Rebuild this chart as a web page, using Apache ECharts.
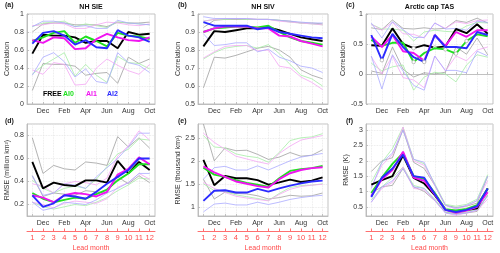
<!DOCTYPE html>
<html>
<head>
<meta charset="utf-8">
<script src="https://cdn.jsdelivr.net/npm/echarts/dist/echarts.min.js"></script>
<style>html,body{margin:0;padding:0;background:#fff}#c{width:500px;height:253px}</style>
</head>
<body>
<div id="c"></div>
<script>
// ---------- categories / tick labels ----------
const months = ['Nov','Dec','Jan','Feb','Mar','Apr','May','Jun','Jul','Aug','Sep','Oct'];
const leadMonths = ['1','2','3','4','5','6','7','8','9','10','11','12'];
const expNames = ['FREE','AI0','AI1','AI2'];

// ---------- (a) NH SIE correlation ----------
const a_FREE = [0.56,0.77,0.76,0.76,0.74,0.68,0.70,0.70,0.62,0.80,0.77,0.78];
const a_AI0  = [0.70,0.74,0.79,0.81,0.68,0.75,0.70,0.64,0.79,0.76,0.75,0.72];
const a_AI1  = [0.71,0.68,0.74,0.73,0.61,0.62,0.72,0.78,0.74,0.71,0.70,0.74];
const a_AI2  = [0.67,0.79,0.81,0.76,0.66,0.71,0.63,0.62,0.82,0.76,0.74,0.69];
const a_FREE_hi = [0.80,0.89,0.90,0.90,0.88,0.88,0.88,0.86,0.91,0.90,0.90,0.91];
const a_AI0_hi  = [0.86,0.90,0.91,0.92,0.86,0.89,0.87,0.85,0.91,0.90,0.89,0.88];
const a_AI1_hi  = [0.87,0.88,0.90,0.89,0.84,0.84,0.88,0.91,0.90,0.88,0.87,0.89];
const a_AI2_hi  = [0.86,0.92,0.92,0.90,0.86,0.87,0.84,0.84,0.93,0.90,0.89,0.88];
const a_FREE_lo = [0.15,0.45,0.44,0.44,0.42,0.32,0.34,0.35,0.23,0.52,0.45,0.50];
const a_AI0_lo  = [0.33,0.43,0.50,0.57,0.31,0.44,0.32,0.24,0.53,0.46,0.45,0.39];
const a_AI1_lo  = [0.38,0.33,0.46,0.44,0.21,0.22,0.40,0.50,0.43,0.37,0.33,0.44];
const a_AI2_lo  = [0.32,0.52,0.57,0.47,0.30,0.39,0.25,0.23,0.57,0.46,0.43,0.35];

// ---------- (b) NH SIV correlation ----------
const b_FREE = [0.82,0.905,0.90,0.91,0.92,0.92,0.925,0.91,0.89,0.87,0.86,0.85];
const b_AI0  = [0.90,0.92,0.925,0.93,0.93,0.925,0.935,0.90,0.87,0.85,0.84,0.83];
const b_AI1  = [0.90,0.92,0.93,0.93,0.93,0.92,0.92,0.88,0.875,0.85,0.835,0.82];
const b_AI2  = [0.955,0.935,0.935,0.935,0.935,0.915,0.925,0.90,0.89,0.88,0.87,0.865];
const b_FREE_hi = [0.925,0.965,0.97,0.97,0.97,0.97,0.97,0.965,0.96,0.95,0.95,0.945];
const b_AI0_hi  = [0.96,0.97,0.97,0.975,0.97,0.97,0.97,0.965,0.955,0.95,0.945,0.94];
const b_AI1_hi  = [0.96,0.97,0.975,0.975,0.975,0.97,0.97,0.96,0.955,0.95,0.945,0.94];
const b_AI2_hi  = [0.985,0.975,0.975,0.975,0.975,0.97,0.97,0.965,0.96,0.955,0.95,0.95];
const b_FREE_lo = [0.59,0.76,0.755,0.77,0.79,0.81,0.82,0.80,0.76,0.69,0.66,0.64];
const b_AI0_lo  = [0.75,0.785,0.81,0.82,0.825,0.81,0.83,0.78,0.72,0.66,0.64,0.60];
const b_AI1_lo  = [0.755,0.79,0.82,0.825,0.825,0.795,0.80,0.71,0.70,0.65,0.62,0.58];
const b_AI2_lo  = [0.89,0.825,0.83,0.84,0.84,0.79,0.805,0.76,0.74,0.71,0.70,0.675];

// ---------- (c) Arctic cap TAS correlation ----------
const c_FREE = [0.48,0.47,0.76,0.50,0.43,0.48,0.44,0.46,0.75,0.68,0.83,0.67];
const c_AI0  = [0.57,0.47,0.52,0.52,0.20,0.35,0.43,0.41,0.34,0.55,0.66,0.63];
const c_AI1  = [0.62,0.45,0.65,0.38,0.35,0.22,0.65,0.47,0.70,0.62,0.73,0.73];
const c_AI2  = [0.65,0.23,0.67,0.45,0.28,0.20,0.65,0.45,0.45,0.43,0.70,0.65];
const c_FREE_hi = [0.77,0.74,0.90,0.76,0.75,0.77,0.75,0.76,0.89,0.86,0.93,0.85];
const c_AI0_hi  = [0.83,0.75,0.75,0.73,0.55,0.70,0.73,0.71,0.70,0.80,0.86,0.85];
const c_AI1_hi  = [0.83,0.73,0.86,0.67,0.66,0.60,0.85,0.76,0.87,0.84,0.89,0.90];
const c_AI2_hi  = [0.85,0.60,0.87,0.74,0.61,0.61,0.85,0.75,0.76,0.73,0.88,0.86];
const c_FREE_lo = [0.05,0.01,0.45,0.08,-0.05,0.02,0.00,0.03,0.45,0.33,0.60,0.32];
const c_AI0_lo  = [0.18,0.05,0.12,0.15,-0.27,-0.05,0.03,0.00,-0.13,0.15,0.32,0.28];
const c_AI1_lo  = [0.29,0.00,0.30,-0.06,-0.10,-0.23,0.30,0.05,0.30,0.22,0.40,0.45];
const c_AI2_lo  = [0.30,-0.25,0.32,0.05,-0.19,-0.27,0.30,0.06,0.06,0.02,0.38,0.30];
// lead months marked with open circles in (c)
const c_FREE_open = [5,7];
const c_AI0_open  = [5,8,9,10];
const c_AI1_open  = [6];
const c_AI2_open  = [2,6];

// ---------- (d) NH SIE RMSE ----------
const d_FREE = [0.57,0.34,0.39,0.37,0.36,0.41,0.41,0.39,0.58,0.47,0.57,0.50];
const d_AI0  = [0.30,0.25,0.22,0.24,0.26,0.25,0.29,0.33,0.41,0.47,0.55,0.55];
const d_AI1  = [0.28,0.26,0.22,0.28,0.30,0.29,0.27,0.31,0.46,0.51,0.61,0.55];
const d_AI2  = [0.28,0.18,0.21,0.28,0.27,0.25,0.31,0.38,0.44,0.50,0.60,0.60];
const d_FREE_hi = [0.78,0.47,0.54,0.51,0.50,0.57,0.56,0.54,0.79,0.70,0.78,0.69];
const d_AI0_hi  = [0.41,0.34,0.30,0.34,0.36,0.34,0.42,0.53,0.64,0.68,0.77,0.76];
const d_AI1_hi  = [0.38,0.36,0.30,0.38,0.40,0.39,0.37,0.43,0.62,0.71,0.84,0.76];
const d_AI2_hi  = [0.45,0.28,0.30,0.38,0.37,0.34,0.44,0.52,0.60,0.70,0.82,0.82];
const d_FREE_lo = [0.45,0.27,0.30,0.29,0.28,0.32,0.31,0.30,0.44,0.38,0.45,0.39];
const d_AI0_lo  = [0.22,0.18,0.16,0.18,0.20,0.19,0.22,0.26,0.32,0.37,0.43,0.42];
const d_AI1_lo  = [0.22,0.20,0.17,0.21,0.23,0.22,0.21,0.25,0.35,0.39,0.47,0.42];
const d_AI2_lo  = [0.22,0.15,0.17,0.22,0.21,0.20,0.24,0.30,0.34,0.39,0.47,0.47];

// ---------- (e) NH SIV RMSE ----------
const e_FREE = [2.02,1.47,1.67,1.62,1.62,1.58,1.48,1.53,1.59,1.54,1.57,1.64];
const e_AI0  = [1.85,1.70,1.65,1.58,1.52,1.48,1.43,1.62,1.78,1.82,1.84,1.89];
const e_AI1  = [1.88,1.75,1.65,1.55,1.50,1.45,1.42,1.60,1.73,1.80,1.84,1.86];
const e_AI2  = [1.13,1.35,1.36,1.31,1.31,1.39,1.33,1.40,1.46,1.51,1.55,1.57];
const e_FREE_hi = [2.80,2.00,2.28,2.22,2.23,2.14,2.03,2.08,2.18,2.10,2.12,2.24];
const e_AI0_hi  = [2.55,2.30,2.28,2.15,2.10,2.07,1.97,2.18,2.44,2.50,2.52,2.59];
const e_AI1_hi  = [2.60,2.40,2.25,2.10,2.04,1.98,1.93,2.16,2.32,2.45,2.50,2.55];
const e_AI2_hi  = [1.60,1.85,1.88,1.80,1.80,1.89,1.80,1.90,2.00,2.08,2.12,2.16];
const e_FREE_lo = [1.60,1.17,1.32,1.29,1.28,1.24,1.17,1.20,1.25,1.23,1.24,1.30];
const e_AI0_lo  = [1.50,1.35,1.33,1.26,1.22,1.18,1.14,1.29,1.42,1.46,1.47,1.50];
const e_AI1_lo  = [1.53,1.40,1.31,1.23,1.19,1.16,1.13,1.27,1.38,1.44,1.47,1.49];
const e_AI2_lo  = [0.89,1.06,1.08,1.04,1.04,1.10,1.05,1.10,1.16,1.20,1.23,1.25];

// ---------- (f) Arctic cap TAS RMSE ----------
const f_FREE = [1.22,1.37,1.50,2.18,1.44,1.26,0.88,0.41,0.34,0.39,0.45,1.10];
const f_AI0  = [0.95,1.45,1.90,2.25,1.50,1.40,0.95,0.42,0.38,0.43,0.55,1.10];
const f_AI1  = [0.85,1.40,1.70,2.30,1.45,1.35,0.90,0.40,0.30,0.38,0.50,0.98];
const f_AI2  = [0.82,1.45,1.75,2.20,1.50,1.45,0.92,0.40,0.33,0.40,0.52,1.10];
const f_FREE_hi = [1.65,2.00,2.10,3.02,1.95,1.75,1.20,0.55,0.48,0.52,0.62,1.50];
const f_AI0_hi  = [1.30,1.95,2.40,3.10,2.05,1.90,1.25,0.58,0.52,0.58,0.75,1.55];
const f_AI1_hi  = [1.15,1.85,2.20,3.10,2.00,1.85,1.20,0.55,0.42,0.52,0.70,1.35];
const f_AI2_hi  = [1.10,1.95,2.25,3.00,2.05,1.95,1.22,0.55,0.45,0.55,0.70,1.50];
const f_FREE_lo = [0.95,1.15,1.20,1.75,1.15,1.00,0.70,0.32,0.28,0.30,0.35,0.88];
const f_AI0_lo  = [0.72,1.15,1.45,1.80,1.20,1.10,0.75,0.33,0.28,0.33,0.42,0.88];
const f_AI1_lo  = [0.65,1.10,1.30,1.80,1.10,1.05,0.70,0.30,0.22,0.30,0.38,0.75];
const f_AI2_lo  = [0.65,1.15,1.35,1.75,1.15,1.10,0.72,0.30,0.25,0.30,0.40,0.85];

// ---------- styling / layout ----------
const FONT = 'Liberation Sans';
const mainColors = ['#000000','#1fe01f','#f014f0','#2b2bff'];
const thinColors = ['#a0a0a0','#a6eea6','#f4a6f4','#ababff'];
const axisGray = '#b4b4b4';
const labelGray = '#333333';
const red = '#ff4a4a';

const panels = [
  {key:'a', title:'NH SIE', yname:'Correlation', min:0, max:1, interval:0.2, gap:13,
   grid:{left:27, top:14, width:128, height:90},
   sets:[[a_FREE,a_FREE_hi,a_FREE_lo],[a_AI0,a_AI0_hi,a_AI0_lo],[a_AI1,a_AI1_hi,a_AI1_lo],[a_AI2,a_AI2_hi,a_AI2_lo]]},
  {key:'b', title:'NH SIV', yname:'Correlation', min:0.5, max:1, interval:0.1, gap:15,
   grid:{left:198, top:14, width:130, height:90},
   sets:[[b_FREE,b_FREE_hi,b_FREE_lo],[b_AI0,b_AI0_hi,b_AI0_lo],[b_AI1,b_AI1_hi,b_AI1_lo],[b_AI2,b_AI2_hi,b_AI2_lo]]},
  {key:'c', title:'Arctic cap TAS', yname:'Correlation', min:-0.5, max:1, interval:0.5, gap:16,
   grid:{left:366, top:14, width:127, height:90},
   sets:[[c_FREE,c_FREE_hi,c_FREE_lo,c_FREE_open],[c_AI0,c_AI0_hi,c_AI0_lo,c_AI0_open],[c_AI1,c_AI1_hi,c_AI1_lo,c_AI1_open],[c_AI2,c_AI2_hi,c_AI2_lo,c_AI2_open]]},
  {key:'d', title:'', yname:'RMSE (million km\u00B2)', min:0.1, max:0.9, split:4, gap:13,
   grid:{left:27, top:124, width:128, height:93},
   sets:[[d_FREE,d_FREE_hi,d_FREE_lo],[d_AI0,d_AI0_hi,d_AI0_lo],[d_AI1,d_AI1_hi,d_AI1_lo],[d_AI2,d_AI2_hi,d_AI2_lo]]},
  {key:'e', title:'', yname:'RMSE (thousand km\u00B3)', min:0.8, max:2.8, split:4, gap:15,
   grid:{left:198, top:124, width:130, height:93},
   sets:[[e_FREE,e_FREE_hi,e_FREE_lo],[e_AI0,e_AI0_hi,e_AI0_lo],[e_AI1,e_AI1_hi,e_AI1_lo],[e_AI2,e_AI2_hi,e_AI2_lo]]},
  {key:'f', title:'', yname:'RMSE (K)', min:0.2, max:3.2, split:6, gap:16,
   grid:{left:366, top:124, width:127, height:93},
   sets:[[f_FREE,f_FREE_hi,f_FREE_lo],[f_AI0,f_AI0_hi,f_AI0_lo],[f_AI1,f_AI1_hi,f_AI1_lo],[f_AI2,f_AI2_hi,f_AI2_lo]]}
];

const grid = [], xAxis = [], yAxis = [], series = [], title = [];

panels.forEach((p, i) => {
  grid.push(Object.assign({show:true, borderColor:axisGray, borderWidth:0.8, containLabel:false}, p.grid));
  xAxis.push({
    type:'category', gridIndex:i, data:months, boundaryGap:true, position:'bottom',
    axisLine:{show:true, lineStyle:{color:axisGray, width:0.8}},
    axisTick:{show:true, inside:true, length:2, alignWithLabel:true, interval:0, lineStyle:{color:axisGray, width:0.8}},
    axisLabel:{interval:(idx) => idx % 2 === 1, fontSize:7, color:labelGray, margin:4, fontFamily:FONT},
    splitLine:{show:true, alignWithLabel:true, interval:0, lineStyle:{color:'#e4e4e4', type:'dotted', width:0.8}}
  });
  const ya = {
    type:'value', gridIndex:i, min:p.min, max:p.max,
    name:p.yname, nameLocation:'middle', nameGap:p.gap,
    nameTextStyle:{fontSize:7, color:labelGray, fontFamily:FONT},
    axisLine:{show:true, lineStyle:{color:axisGray, width:0.8}},
    axisTick:{show:true, inside:true, length:2, lineStyle:{color:axisGray, width:0.8}},
    axisLabel:{fontSize:7, color:labelGray, margin:3, fontFamily:FONT},
    splitLine:{show:true, lineStyle:{color:'#e4e4e4', type:'dotted', width:0.8}}
  };
  if (p.interval) ya.interval = p.interval;
  else { ya.splitNumber = p.split; ya.axisLabel.showMinLabel = false; ya.axisLabel.showMaxLabel = false; }
  yAxis.push(ya);

  // thin bound lines first
  p.sets.forEach((s, k) => {
    [s[1], s[2]].forEach((arr, j) => {
      series.push({
        type:'line', name:expNames[k] + (j ? ' low' : ' high'), xAxisIndex:i, yAxisIndex:i,
        data:arr, symbol:'none', silent:true, z:2,
        lineStyle:{color:thinColors[k], width:0.8}
      });
    });
  });
  // thick main lines
  p.sets.forEach((s, k) => {
    const open = s[3] || [];
    series.push({
      type:'line', name:expNames[k], xAxisIndex:i, yAxisIndex:i, z:3 + k,
      data:s[0].map((v, m) => open.includes(m + 1)
        ? {value:v, symbol:'circle', symbolSize:3.5, itemStyle:{color:'#ffffff', borderColor:'#a8a8a8', borderWidth:0.7}}
        : {value:v, symbol:'none'}),
      showSymbol:true, symbol:'none',
      lineStyle:{color:mainColors[k], width:1.9},
      itemStyle:{color:mainColors[k]}
    });
  });

  // panel label and title
  const g = p.grid;
  const rowTop = i < 3;
  title.push({text:'(' + p.key + ')', left: g.left - 22 + (i % 3 === 0 ? 0 : 2), top: rowTop ? 2 : 118, padding:0,
    textStyle:{fontSize:7, fontWeight:'bold', color:'#222', fontFamily:FONT}});
  if (p.title) {
    title.push({text:p.title, left: g.left + g.width / 2, top:4, textAlign:'center', padding:0,
      textStyle:{fontSize:7, fontWeight:'bold', color:'#111', fontFamily:FONT}});
  }
});

// red "Lead month" axes under the bottom row
[3,4,5].forEach(i => {
  xAxis.push({
    type:'category', gridIndex:i, data:leadMonths, boundaryGap:true, position:'bottom', offset:15,
    axisLine:{show:true, lineStyle:{color:red, width:0.8}},
    axisTick:{show:true, inside:true, length:2.5, alignWithLabel:true, interval:0, lineStyle:{color:red, width:0.8}},
    axisLabel:{interval:0, fontSize:7.5, color:red, margin:3, fontFamily:FONT},
    splitLine:{show:false},
    name:'Lead month', nameLocation:'middle', nameGap:14,
    nameTextStyle:{fontSize:7, color:red, fontFamily:FONT}
  });
});

// in-panel legend text of (a)
const legendX = [43, 63, 86, 107];
expNames.forEach((n, k) => {
  title.push({text:n, left:legendX[k], top:91, padding:0,
    textStyle:{fontSize:7, fontWeight:'bold', color:mainColors[k], fontFamily:FONT}});
});

const chart = echarts.init(document.getElementById('c'), null, {renderer:'canvas'});
chart.setOption({animation:false, backgroundColor:'#fff', textStyle:{fontFamily:FONT}, title, grid, xAxis, yAxis, series});
</script>
</body>
</html>
